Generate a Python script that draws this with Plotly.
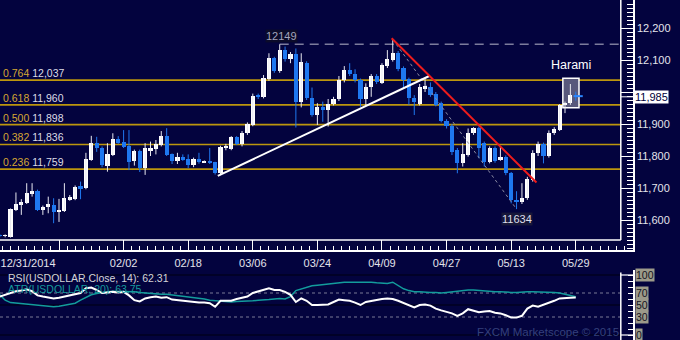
import pandas as pd
import plotly.graph_objects as go

# ---- USDOLLAR daily candles, 12/31/2014 .. 05/29/2015 (weekday sessions) ----
dates = pd.bdate_range("2014-12-31", "2015-05-29")

opens = [11552, 11550, 11548, 11631, 11647, 11654, 11681, 11692, 11631, 11642,
         11647, 11626, 11628, 11663, 11665, 11706, 11699, 11789, 11840, 11826,
         11770, 11803, 11852, 11845, 11832, 11785, 11816, 11761, 11815, 11822,
         11834, 11862, 11805, 11785, 11798, 11791, 11772, 11790, 11781, 11785,
         11780, 11746, 11828, 11822, 11858, 11836, 11871, 11897, 11988, 11985,
         12040, 12105, 12066, 12131, 12102, 12118, 11970, 12092, 11982, 11928,
         11954, 11944, 11962, 11977, 12037, 12069, 12056, 12037, 11977, 12015,
         12050, 12029, 12081, 12100, 12123, 12074, 12040, 11982, 11962, 12008,
         12017, 11994, 11965, 11910, 11895, 11819, 11777, 11803, 11871, 11886,
         11840, 11782, 11824, 11787, 11798, 11746, 11664, 11655, 11668, 11725,
         11808, 11837, 11801, 11871, 11881, 11959, 11965, 11990]
highs = [11556, 11555, 11636, 11686, 11665, 11715, 11715, 11695, 11645, 11673,
         11668, 11666, 11715, 11678, 11708, 11720, 11810, 11863, 11860, 11830,
         11840, 11871, 11862, 11881, 11881, 11820, 11820, 11840, 11845, 11850,
         11878, 11887, 11808, 11810, 11805, 11805, 11795, 11810, 11786, 11825,
         11782, 11832, 11838, 11862, 11862, 11878, 11905, 11995, 11995, 12053,
         12121, 12110, 12149, 12142, 12125, 12136, 12121, 12096, 12014, 11965,
         11970, 11978, 11985, 12050, 12081, 12090, 12071, 12042, 12027, 12056,
         12056, 12090, 12131, 12164, 12128, 12080, 12045, 11990, 12025, 12040,
         12030, 12000, 11970, 11915, 11900, 11825, 11840, 11886, 11890, 11892,
         11845, 11830, 11830, 11830, 11802, 11750, 11690, 11715, 11735, 11818,
         11845, 11842, 11880, 11890, 11962, 11970, 12025, 12001]
lows = [11546, 11546, 11545, 11628, 11616, 11650, 11673, 11628, 11616, 11621,
        11590, 11594, 11625, 11660, 11662, 11665, 11696, 11785, 11813, 11765,
        11751, 11800, 11838, 11825, 11756, 11770, 11750, 11741, 11800, 11805,
        11830, 11800, 11775, 11775, 11785, 11762, 11765, 11776, 11778, 11775,
        11742, 11740, 11818, 11818, 11834, 11830, 11866, 11893, 11978, 11980,
        12035, 12060, 12060, 12095, 12090, 11889, 11952, 11975, 11923, 11897,
        11907, 11892, 11958, 11972, 12030, 12050, 12030, 11954, 11959, 11985,
        12025, 12025, 12075, 12095, 12065, 12012, 11960, 11928, 11958, 12000,
        11985, 11955, 11905, 11886, 11803, 11746, 11767, 11798, 11866, 11793,
        11767, 11777, 11779, 11785, 11740, 11652, 11634, 11650, 11663, 11720,
        11800, 11777, 11795, 11866, 11878, 11934, 11960, 11973]
closes = [11550, 11551, 11633, 11650, 11657, 11685, 11692, 11632, 11642, 11649,
          11626, 11630, 11668, 11673, 11704, 11697, 11790, 11840, 11824, 11771,
          11806, 11852, 11842, 11829, 11782, 11816, 11761, 11824, 11824, 11837,
          11862, 11803, 11784, 11798, 11789, 11772, 11790, 11782, 11784, 11780,
          11747, 11829, 11832, 11858, 11838, 11873, 11900, 11988, 11985, 12043,
          12105, 12066, 12131, 12102, 12118, 11970, 12095, 11980, 11928, 11954,
          11944, 11962, 11977, 12037, 12069, 12056, 12037, 11977, 12015, 12050,
          12030, 12084, 12102, 12123, 12071, 12037, 11980, 11970, 12016, 12018,
          11990, 11960, 11910, 11895, 11813, 11777, 11806, 11871, 11886, 11824,
          11782, 11824, 11784, 11797, 11746, 11662, 11655, 11668, 11727, 11810,
          11837, 11801, 11871, 11883, 11959, 11966, 11990, 11985]

# RSI(Close, 14) and ATR(20) study values
rsi = [64, 67, 71, 73, 74, 76, 73, 66, 64, 63, 61, 62, 64, 66, 67, 70, 78, 79,
       75, 70, 71, 72, 71, 72, 66, 58, 56, 61, 63, 64, 62, 63, 59, 58, 57, 55,
       55, 54, 54, 53, 47, 57, 57, 57, 60, 62, 64, 70, 73, 76, 78, 75, 75, 72,
       67, 55, 61, 57, 50, 50, 50, 51, 55, 59, 58, 57, 54, 50, 55, 57, 58, 60,
       61, 60, 57, 53, 50, 46, 50, 51, 49, 44, 41, 39, 36, 32, 36, 43, 40, 38,
       39, 40, 37, 36, 33, 29, 29, 32, 44, 49, 47, 50, 54, 57, 61, 62, 62, 62.31]
atr = [67, 58, 54, 53, 52, 52, 51, 50, 49, 48, 47, 48, 50, 51, 53, 58, 63, 67,
       69, 71, 72, 73, 73, 73, 72, 72, 71, 70, 69, 69, 68, 68, 67, 65, 64, 63,
       62, 61, 60, 58, 57, 56, 56, 55, 56, 56, 57, 57, 58, 58, 59, 60, 61, 60,
       64, 74, 77, 80, 82, 83, 84, 85, 87, 88, 88, 88, 88, 89, 89, 88, 87, 87,
       86, 88, 83, 77, 74, 72, 72, 71, 71, 71, 70, 71, 72, 74, 74, 75, 75, 74,
       74, 73, 72, 72, 71, 71, 71, 72, 72, 72, 72, 72, 71, 71, 70, 68, 66, 63.75]

# Fibonacci retracement of the 12164 -> 11634 decline
fib_ratios = ["0.764", "0.618", "0.500", "0.382", "0.236"]
fib_levels = [12037, 11960, 11898, 11836, 11759]

# axis ticks
date_tick_idx = [11, 23, 35, 47, 59, 71, 83, 95, 107]
date_tick_text = ["", "02/02", "02/18", "03/06", "03/24", "04/09", "04/27", "05/13", "05/29"]
first_date_label = "12/31/2014"
first_label_pos = 5.25      # label is pushed inside the left edge
price_ticks = [11600, 11700, 11800, 11900, 12000, 12100, 12200]
price_tick_text = ["11,600", "11,700", "11,800", "11,900", "", "12,100", "12,200"]
last_price = 11985
osc_levels = [100, 70, 50, 30, 0]

# drawings: (x0, y0, x1, y1) in candle index / price
support_line = [40.5, 11738, 79.8, 12050]
resistance_line = [72.8, 12168, 99.7, 11717]
harami_box = [104.6, 11951, 107.6, 12043]

# ---- styling ----
BG = "#03033e"
TXT = "#e4e4ec"
UP = "#ffffff"
DOWN = "#1f78f0"
GOLD_LINE = "#bc960e"
GOLD_TXT = "#d6a733"
FONT = "Liberation Sans, Arial, sans-serif"
CLEAR = "rgba(0,0,0,0)"

W, H = 680, 340
X_AXIS_PX = 633          # axis lines (right / bottom)
BORDER_PX = 620.8        # inner plot frame
MAIN_BOTTOM_PX = 250
PX_PER_BAR = 5.383
BAR0_PX = 123.6 - 23 * PX_PER_BAR
X0 = (0 - BAR0_PX) / PX_PER_BAR
X1 = (X_AXIS_PX - BAR0_PX) / PX_PER_BAR
XB = (BORDER_PX - BAR0_PX) / PX_PER_BAR
Y_TOP, Y_BOT = 12287.5, 11506.25
Y_FRAME = 11537.5
OSC_LO, OSC_HI = -8.33, 108.33

n = len(closes)
xs = list(range(n))
is_up = [c >= o for o, c in zip(opens, closes)]
body_base = [min(o, c) for o, c in zip(opens, closes)]
body_h = [max(abs(c - o), 3) for o, c in zip(opens, closes)]
body_col = [UP if u else DOWN for u in is_up]

fig = go.Figure()

# wicks
for flag, col in ((True, "#e8e8f0"), (False, DOWN)):
    wx, wy = [], []
    for i in xs:
        if is_up[i] == flag:
            wx += [i, i, None]
            wy += [lows[i], highs[i], None]
    fig.add_trace(go.Scatter(x=wx, y=wy, mode="lines", line=dict(color=col, width=1),
                             hoverinfo="skip", xaxis="x", yaxis="y"))

# bodies
fig.add_trace(go.Bar(x=xs, y=body_h, base=body_base, width=0.78,
                     marker=dict(color=body_col, line=dict(width=0)),
                     xaxis="x", yaxis="y"))

# oscillator panel
fig.add_trace(go.Scatter(x=xs, y=atr, mode="lines", line=dict(color="#139c9c", width=1.5),
                         xaxis="x2", yaxis="y2"))
fig.add_trace(go.Scatter(x=xs, y=rsi, mode="lines", line=dict(color="#ffffff", width=2),
                         xaxis="x2", yaxis="y2"))

# carrier for the first-date label axis
fig.add_trace(go.Scatter(x=[], y=[], xaxis="x3", yaxis="y", showlegend=False))

shapes = []
# fib levels
for lv in fib_levels:
    shapes.append(dict(type="line", xref="x", yref="y", x0=X0, x1=XB, y0=lv, y1=lv,
                       line=dict(color=GOLD_LINE, width=1.7), layer="below"))
# previous swing high
hi_idx = 52
shapes.append(dict(type="line", xref="x", yref="y", x0=hi_idx, x1=XB,
                   y0=highs[hi_idx], y1=highs[hi_idx],
                   line=dict(color="#7c7c9c", width=1.5, dash="9px,6px"), layer="below"))
# harami highlight
shapes.append(dict(type="rect", xref="x", yref="y", x0=harami_box[0], x1=harami_box[2],
                   y0=harami_box[1], y1=harami_box[3], fillcolor="#58587c",
                   line=dict(color="#ffffff", width=1.5), layer="below"))
# fib anchor line (swing high to swing low)
top_idx, bot_idx = 73, 96
shapes.append(dict(type="line", xref="x", yref="y", x0=top_idx, y0=highs[top_idx],
                   x1=bot_idx, y1=lows[bot_idx],
                   line=dict(color="#8c8ca4", width=1, dash="dot")))
# trend lines
shapes.append(dict(type="line", xref="x", yref="y", x0=support_line[0], y0=support_line[1],
                   x1=support_line[2], y1=support_line[3], line=dict(color="#ffffff", width=2)))
shapes.append(dict(type="line", xref="x", yref="y", x0=resistance_line[0], y0=resistance_line[1],
                   x1=resistance_line[2], y1=resistance_line[3], line=dict(color="#ee1c1c", width=2)))
# last price marker
shapes.append(dict(type="line", xref="x", yref="y", x0=n - 1.4, x1=n + 0.3,
                   y0=last_price + 2, y1=last_price + 2, line=dict(color="#2a86ff", width=2)))
shapes.append(dict(type="line", xref="x", yref="y", x0=XB, x1=X1,
                   y0=last_price, y1=last_price, line=dict(color="#ffffff", width=1)))
# inner frame of price panel
shapes.append(dict(type="line", xref="x", yref="y", x0=X0, x1=XB, y0=Y_FRAME, y1=Y_FRAME,
                   line=dict(color="#ffffff", width=1.5)))
shapes.append(dict(type="line", xref="x", yref="y", x0=XB, x1=XB, y0=Y_FRAME, y1=Y_TOP,
                   line=dict(color="#ffffff", width=1.5)))

# oscillator grid
for lv in osc_levels:
    dashed = lv in (70, 30)
    shapes.append(dict(type="line", xref="x2", yref="y2", x0=X0, x1=XB, y0=lv, y1=lv,
                       line=dict(color="#7a7a96" if dashed else "#000010", width=1.2,
                                 dash="3px,3px" if dashed else "solid"), layer="below"))
shapes.append(dict(type="line", xref="x2", yref="y2", x0=XB, x1=XB, y0=OSC_LO, y1=OSC_HI - 4,
                   line=dict(color="#ffffff", width=1.5)))
for lv in (100, 0):
    shapes.append(dict(type="line", xref="x2", yref="y2", x0=XB, x1=X1, y0=lv, y1=lv,
                       line=dict(color="#ffffff", width=1.2)))

ann = []
# fib labels
for r, lv in zip(fib_ratios, fib_levels):
    ann.append(dict(xref="paper", yref="y", x=1 / W, y=lv, yshift=7, xanchor="left",
                    yanchor="middle", showarrow=False,
                    text=f"<span style='color:{GOLD_TXT}'>{r}</span> {lv:,}",
                    font=dict(size=10.5, color="#dcdce6")))
ann.append(dict(xref="x", yref="y", x=hi_idx + 0.4, y=highs[hi_idx], yshift=8, showarrow=False,
                text=str(highs[hi_idx]), bgcolor="#0b0b2a", borderpad=0,
                font=dict(size=11, color="#a4a4bc")))
ann.append(dict(xref="x", yref="y", x=bot_idx, y=lows[bot_idx], yshift=-10, showarrow=False,
                text=str(lows[bot_idx]), bgcolor="#17173a", borderpad=0,
                font=dict(size=11, color="#dedeea")))
ann.append(dict(xref="x", yref="y", x=(harami_box[0] + harami_box[2]) / 2, y=harami_box[3],
                yshift=13, showarrow=False, text="Harami",
                font=dict(size=12.5, color="#ffffff")))
ann.append(dict(xref="paper", yref="y", x=634 / W, y=last_price, xanchor="left",
                showarrow=False, text=f"{last_price:,}", bgcolor="#ffffff", borderpad=0,
                font=dict(size=11, color="#00003a")))
# oscillator legend
ann.append(dict(xref="paper", yref="paper", x=6 / W, y=1 - 277.5 / H, xanchor="left",
                yanchor="middle", showarrow=False,
                text=f"RSI(USDOLLAR.Close, 14): {rsi[-1]:.2f}",
                font=dict(size=10.5, color="#d4d4d8")))
ann.append(dict(xref="paper", yref="paper", x=6 / W, y=1 - 289 / H, xanchor="left",
                yanchor="middle", showarrow=False,
                text=f"ATR(USDOLLAR, 20): {atr[-1]:.2f}",
                font=dict(size=10.5, color="#169a9c")))
for lv in osc_levels:
    ann.append(dict(xref="paper", yref="y2", x=635 / W, y=lv, xanchor="left", yanchor="middle",
                    showarrow=False, text=str(lv), bgcolor="#9c9a8a", borderpad=0,
                    font=dict(size=10.5, color="#14141e")))
ann.append(dict(xref="paper", yref="paper", x=BORDER_PX / W, y=1 - 332 / H, xanchor="right",
                yanchor="middle", showarrow=False, text="FXCM Marketscope © 2015",
                font=dict(size=11.5, color="#34407c")))

date_axis_common = dict(domain=[0, X_AXIS_PX / W], range=[X0, X1], anchor="y",
                        showgrid=False, zeroline=False, showline=True, linewidth=1.5,
                        ticks="inside", ticklen=10, tickwidth=1, ticklabelstandoff=2,
                        tickmode="array", tickfont=dict(size=11, color=TXT))

fig.update_layout(
    width=W, height=H, margin=dict(l=0, r=0, t=0, b=0),
    paper_bgcolor=BG, plot_bgcolor=BG, showlegend=False, bargap=0,
    font=dict(family=FONT, size=11, color=TXT),
    shapes=shapes, annotations=ann,
    xaxis=dict(**date_axis_common, linecolor="#ffffff", tickcolor="#ffffff",
               tickvals=date_tick_idx, ticktext=date_tick_text,
               minor=dict(ticks="inside", ticklen=4, tickwidth=1, tickcolor="#ffffff",
                          tickmode="linear", tick0=11, dtick=1.5, showgrid=False)),
    xaxis3=dict(**date_axis_common, overlaying="x", linecolor=CLEAR, tickcolor=CLEAR,
                tickvals=[first_label_pos], ticktext=[first_date_label]),
    yaxis=dict(domain=[1 - MAIN_BOTTOM_PX / H, 1], range=[Y_BOT, Y_TOP], anchor="x", side="right",
               showgrid=False, zeroline=False, showline=True, linecolor="#ffffff", linewidth=1.5,
               ticks="inside", ticklen=12, tickwidth=1, tickcolor="#ffffff",
               tickmode="array", tickvals=price_ticks, ticktext=price_tick_text,
               tickfont=dict(size=11, color=TXT),
               minor=dict(ticks="inside", ticklen=6, tickwidth=1, tickcolor="#ffffff",
                          tickmode="linear", tick0=11600, dtick=12.5, showgrid=False)),
    xaxis2=dict(domain=[0, X_AXIS_PX / W], range=[X0, X1], anchor="y2", visible=False),
    yaxis2=dict(domain=[0, 70 / H], range=[OSC_LO, OSC_HI], anchor="x2", side="right",
                showgrid=False, zeroline=False, showline=True, linecolor="#ffffff", linewidth=1.5,
                ticks="inside", ticklen=5, tickwidth=1, tickcolor="#ffffff",
                tickmode="array", tickvals=list(range(0, 101, 10)), showticklabels=False),
)

fig.write_html("out.html")
